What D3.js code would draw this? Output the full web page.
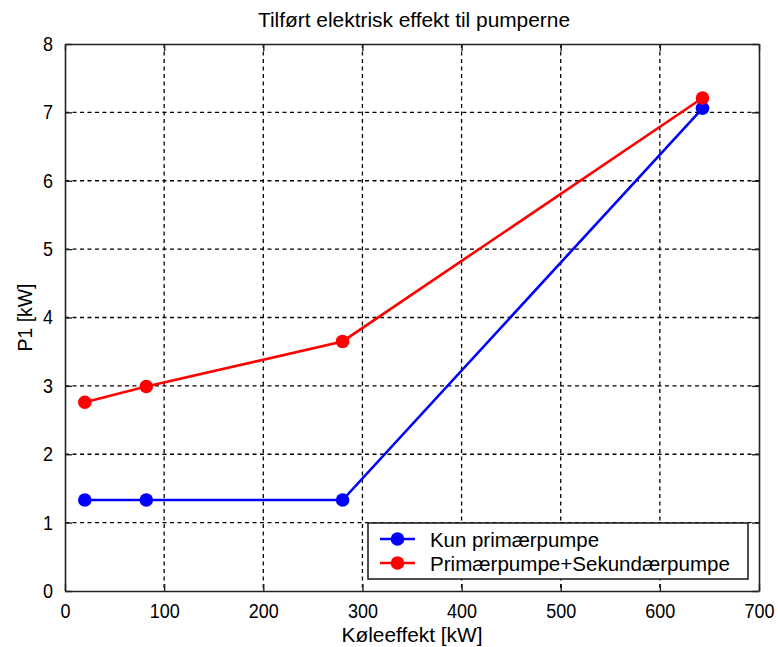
<!DOCTYPE html>
<html>
<head>
<meta charset="utf-8">
<script src="https://cdn.jsdelivr.net/npm/d3@7"></script>
<style>
  html, body { margin: 0; padding: 0; background: #fff; }
  svg text { font-family: "Liberation Sans", Arial, sans-serif; fill: #000; }
</style>
</head>
<body>
<svg id="chart" width="778" height="647"></svg>
<script>
// Cooling load [kW] at each measured operating point
const coolingKW = [20, 82, 280, 643];
// Electrical input power P1 [kW]
const primaryOnly = [1.33, 1.33, 1.33, 7.06];
const primarySecondary = [2.76, 2.99, 3.65, 7.21];

const seriesNames = ["Kun primærpumpe", "Primærpumpe+Sekundærpumpe"];
const seriesColors = ["#0000ff", "#ff0000"];
const xTicks = [0, 100, 200, 300, 400, 500, 600, 700];
const yTicks = [0, 1, 2, 3, 4, 5, 6, 7, 8];

const titleText = "Tilført elektrisk effekt til pumperne";
const xLabel = "Køleeffekt [kW]";
const yLabel = "P1 [kW]";

const svg = d3.select("#chart");
const plotL = 65, plotR = 759, plotT = 44, plotB = 591;

const x = d3.scaleLinear().domain([0, 700]).range([plotL, plotR]);
const y = d3.scaleLinear().domain([0, 8]).range([plotB, plotT]);

// condensed look: tall glyphs squeezed to a narrower advance
function narrow(sel, perChar) {
  sel.each(function () {
    const t = d3.select(this);
    const n = t.text().length;
    if (n) t.attr("textLength", n * perChar).attr("lengthAdjust", "spacingAndGlyphs");
  });
}

// dashed grid
const grid = svg.append("g");
grid.selectAll("line.gx").data(xTicks.slice(1, -1)).join("line")
  .attr("x1", d => x(d)).attr("x2", d => x(d))
  .attr("y1", plotT).attr("y2", plotB)
  .attr("stroke", "#000").attr("stroke-width", 1.3).attr("stroke-dasharray", "4,3.5");
grid.selectAll("line.gy").data(yTicks.slice(1, -1)).join("line")
  .attr("x1", plotL).attr("x2", plotR)
  .attr("y1", d => y(d)).attr("y2", d => y(d))
  .attr("stroke", "#000").attr("stroke-width", 1.3).attr("stroke-dasharray", "4,3.5");

// axes with inward ticks on all four sides
const tickLen = 7;
const fmt = d3.format("d");
const axB = svg.append("g").attr("transform", `translate(0,${plotB})`)
  .call(d3.axisBottom(x).tickValues(xTicks).tickFormat(fmt).tickSizeInner(-tickLen).tickSizeOuter(0).tickPadding(14));
const axT = svg.append("g").attr("transform", `translate(0,${plotT})`)
  .call(d3.axisTop(x).tickValues(xTicks).tickFormat("").tickSizeInner(-tickLen).tickSizeOuter(0));
const axL = svg.append("g").attr("transform", `translate(${plotL},0)`)
  .call(d3.axisLeft(y).tickValues(yTicks).tickFormat(fmt).tickSizeInner(-tickLen).tickSizeOuter(0).tickPadding(12));
const axR = svg.append("g").attr("transform", `translate(${plotR},0)`)
  .call(d3.axisRight(y).tickValues(yTicks).tickFormat("").tickSizeInner(-tickLen).tickSizeOuter(0));
[axB, axT, axL, axR].forEach(a => {
  a.select(".domain").attr("stroke", "#222").attr("stroke-width", 1.6);
  a.selectAll(".tick line").attr("stroke", "#222").attr("stroke-width", 1.4);
  a.selectAll("text").attr("font-size", 20).attr("font-family", "Liberation Sans, Arial, sans-serif").attr("fill", "#000");
});
axB.selectAll("text").attr("dy", "0.71em").attr("y", 13);
narrow(axB.selectAll("text"), 10);
narrow(axL.selectAll("text"), 10);

// data lines + markers
const line = d3.line().x((d, i) => x(coolingKW[i])).y(d => y(d));
[primaryOnly, primarySecondary].forEach((vals, k) => {
  svg.append("path").datum(vals)
    .attr("d", line).attr("fill", "none")
    .attr("stroke", seriesColors[k]).attr("stroke-width", 2.6);
  svg.append("g").selectAll("circle").data(vals).join("circle")
    .attr("cx", (d, i) => x(coolingKW[i])).attr("cy", d => y(d))
    .attr("r", 6.8).attr("fill", seriesColors[k]);
});

// legend
const lg = svg.append("g");
lg.append("rect").attr("x", 368).attr("y", 523).attr("width", 380).attr("height", 56)
  .attr("fill", "#fff").attr("stroke", "#222").attr("stroke-width", 1.6);
const legendWidths = [169, 300];
seriesNames.forEach((name, k) => {
  const yy = 539 + k * 24;
  lg.append("line").attr("x1", 380).attr("x2", 415).attr("y1", yy).attr("y2", yy)
    .attr("stroke", seriesColors[k]).attr("stroke-width", 2.6);
  lg.append("circle").attr("cx", 397.5).attr("cy", yy).attr("r", 6.8).attr("fill", seriesColors[k]);
  lg.append("text").attr("x", 430).attr("y", yy).attr("dy", "0.36em")
    .attr("font-size", 21).attr("textLength", legendWidths[k]).attr("lengthAdjust", "spacingAndGlyphs")
    .text(name);
});

// title and axis labels
svg.append("text").attr("x", 414).attr("y", 27)
  .attr("text-anchor", "middle").attr("font-size", 21)
  .attr("textLength", 312).attr("lengthAdjust", "spacingAndGlyphs").text(titleText);
svg.append("text").attr("x", 412).attr("y", 642)
  .attr("text-anchor", "middle").attr("font-size", 21)
  .attr("textLength", 141).attr("lengthAdjust", "spacingAndGlyphs").text(xLabel);
svg.append("text").attr("transform", `translate(32,${(plotT + plotB) / 2}) rotate(-90)`)
  .attr("text-anchor", "middle").attr("font-size", 21)
  .attr("textLength", 68).attr("lengthAdjust", "spacingAndGlyphs").text(yLabel);
</script>
</body>
</html>
